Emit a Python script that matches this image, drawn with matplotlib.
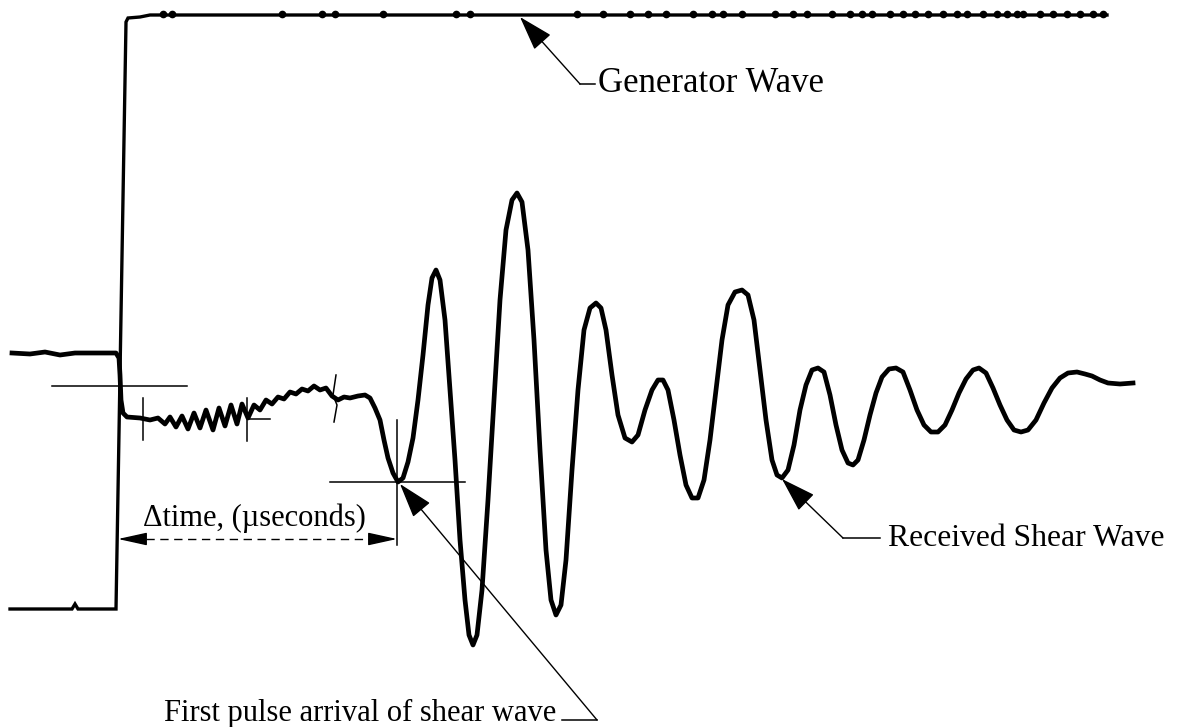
import matplotlib.pyplot as plt

plt.rcParams['font.family'] = ['Liberation Serif', 'DejaVu Serif']

# Generator (square) wave trace, screen-style units (y grows downward)
gen_t = [10, 72, 75, 78, 116, 126, 128, 140, 150, 1107]
gen_v = [609, 609, 604, 609, 609, 22, 18, 17, 15, 15]

# small noise blips riding on the generator plateau
blip_t = [163, 172, 282, 322, 335, 383, 456, 470, 577, 603, 630, 648, 666, 693, 712,
          723, 742, 775, 793, 807, 832, 850, 862, 872, 890, 903, 915, 928, 943, 957,
          967, 983, 997, 1007, 1017, 1023, 1040, 1053, 1067, 1080, 1093, 1103]
blip_v = [14] * len(blip_t)

# Received shear wave trace
rx_t = [12, 30, 45, 60, 75, 95, 116, 119, 120, 121, 123, 127, 140, 150, 158, 165, 170,
        176, 182, 188, 194, 200, 206, 213, 219, 225, 231, 237, 242, 248, 254, 260, 266,
        272, 278, 284, 290, 296, 302, 308, 314, 320, 326, 332, 338, 344, 350, 358, 365,
        370, 375, 380, 384, 388, 393, 398, 403, 408, 413, 418, 423, 428, 432, 436, 440,
        445, 450, 455, 460, 465, 469, 473, 477, 482, 488, 494, 500, 506, 512, 517, 522,
        528, 534, 540, 546, 551, 556, 561, 566, 572, 578, 584, 590, 596, 601, 606, 612,
        618, 625, 632, 638, 645, 652, 658, 663, 668, 674, 680, 686, 692, 698, 704, 710,
        716, 722, 728, 735, 742, 748, 754, 760, 766, 772, 777, 782, 788, 794, 800, 806,
        812, 818, 824, 830, 836, 842, 848, 853, 858, 864, 870, 876, 882, 889, 896, 903,
        910, 917, 924, 931, 938, 945, 952, 959, 966, 973, 979, 986, 993, 1000, 1007, 1014,
        1021, 1028, 1036, 1044, 1052, 1060, 1068, 1077, 1085, 1092, 1100, 1108, 1120, 1133]
rx_v = [353, 354, 352, 355, 353, 353, 353, 358, 375, 400, 413, 417, 418, 420, 418, 424, 417,
        427, 416, 429, 413, 428, 410, 430, 408, 426, 405, 424, 404, 418, 405, 410, 400,
        404, 397, 399, 392, 394, 389, 391, 386, 390, 388, 396, 400, 397, 398, 396, 395,
        398, 408, 420, 440, 458, 473, 482, 478, 462, 438, 400, 355, 305, 278, 270, 280,
        320, 390, 460, 540, 600, 635, 645, 635, 590, 500, 400, 300, 230, 200, 193, 202,
        250, 340, 450, 550, 600, 615, 605, 560, 470, 390, 330, 308, 303, 308, 330, 375,
        415, 438, 442, 435, 410, 390, 380, 380, 390, 420, 455, 485, 498, 498, 480, 440,
        390, 340, 305, 292, 290, 295, 320, 370, 420, 460, 475, 478, 470, 445, 410, 385,
        370, 368, 372, 395, 425, 450, 463, 465, 460, 440, 415, 393, 377, 369, 368, 372,
        390, 410, 425, 432, 432, 425, 410, 393, 379, 370, 368, 373, 388, 405, 420, 430,
        432, 430, 420, 403, 388, 378, 373, 372, 374, 376, 380, 383, 384, 383]

fig = plt.figure(figsize=(11.8, 7.27), dpi=100)
ax = fig.add_axes([0, 0, 1, 1])
ax.set_xlim(0, 1180)
ax.set_ylim(727, 0)
ax.axis('off')

ax.plot(gen_t, gen_v, color='black', lw=2.4, solid_joinstyle='miter')
ax.plot(blip_t, blip_v, ls='none', marker='o', ms=4.5, color='black')
ax.plot(rx_t, rx_v, color='black', lw=3.4, solid_joinstyle='round')

thin = dict(color='black', lw=1.1)

# cursor marks
ax.plot([52, 187], [386, 386], **thin)
ax.plot([143, 143], [398, 440], **thin)
ax.plot([247, 247], [398, 441], **thin)
ax.plot([248, 270], [419, 419], **thin)
ax.plot([336, 333, 337, 334], [375, 395, 405, 422], **thin)
ax.plot([330, 465], [482, 482], **thin)
ax.plot([397, 397], [420, 545], **thin)

# delta-time dimension line
ax.plot([132, 383], [539, 539], color='black', lw=1.0, ls=(0, (6, 4)))
head = dict(arrowstyle='-|>,head_length=1.0,head_width=0.22', color='black', lw=1.0,
            shrinkA=0, shrinkB=0, mutation_scale=18)
ax.annotate('', xy=(118, 539), xytext=(140, 539), arrowprops=head)
ax.annotate('', xy=(397, 539), xytext=(375, 539), arrowprops=head)
ax.text(143, 518, 'Δtime, (µseconds)', fontsize=22, va='center', ha='left')

# callouts
big = dict(arrowstyle='-|>,head_length=1.1,head_width=0.35', color='black', lw=1.0,
           shrinkA=0, shrinkB=0, mutation_scale=20)
ax.annotate('', xy=(400, 484), xytext=(597, 720), arrowprops=big)
ax.plot([562, 597], [720, 720], **thin)
ax.text(556, 721, 'First pulse arrival of shear wave', fontsize=22, ha='right',
        va='baseline')

ax.annotate('', xy=(520, 17), xytext=(580, 84), arrowprops=big)
ax.plot([580, 595], [84, 84], **thin)
ax.text(598, 84, 'Generator Wave', fontsize=25, ha='left', va='center')

ax.annotate('', xy=(782, 479), xytext=(843, 538), arrowprops=big)
ax.plot([843, 880], [538, 538], **thin)
ax.text(888, 538, 'Received Shear Wave', fontsize=22.8, ha='left', va='center')

fig.savefig('out.png', dpi=100)
